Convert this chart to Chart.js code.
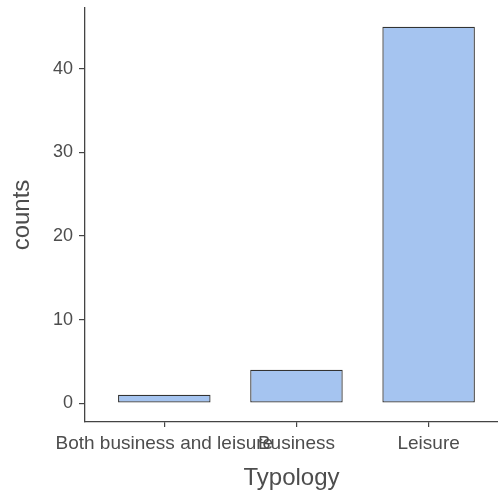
<!DOCTYPE html>
<html>
<head>
<meta charset="utf-8">
<script src="https://cdn.jsdelivr.net/npm/chart.js@4/dist/chart.umd.min.js"></script>
<style>
  html, body { margin: 0; padding: 0; background: #fff; }
  #wrap { width: 498px; height: 496px; }
</style>
</head>
<body>
<div id="wrap"><canvas id="chart"></canvas></div>
<script>
  const categories = ['Both business and leisure', 'Business', 'Leisure'];
  const counts = [1, 4, 45];
  const yTicks = [0, 10, 20, 30, 40];

  const axisColor = '#444';
  const labelColor = '#4d4d4d';
  const font = 'Liberation Sans, Arial, sans-serif';

  // bars sit at x = 1, 2, 3 on a linear axis so the ggplot-like expansion can be matched
  const points = counts.map((v, i) => ({ x: i + 1, y: v }));

  new Chart(document.getElementById('chart'), {
    type: 'bar',
    data: {
      datasets: [{
        data: points,
        backgroundColor: '#a5c4f0',
        borderColor: '#333',
        borderWidth: 1.3,
        borderSkipped: false,
        categoryPercentage: 1,
        barPercentage: 0.7,
      }],
    },
    options: {
      responsive: true,
      maintainAspectRatio: false,
      animation: false,
      layout: { padding: { top: 8, right: 0, left: 0, bottom: 0 } },
      plugins: { legend: { display: false }, tooltip: { enabled: false } },
      scales: {
        x: {
          type: 'linear',
          offset: false,
          min: 0.4,
          max: 3.525,
          afterBuildTicks: (s) => { s.ticks = categories.map((c, i) => ({ value: i + 1 })); },
          afterFit: (s) => { s.height = 74; s.paddingLeft = 0; s.paddingRight = 0; },
          ticks: {
            autoSkip: false,
            maxRotation: 0,
            color: labelColor,
            font: { family: font, size: 19 },
            padding: 5,
            callback: (v) => categories[v - 1],
          },
          grid: { offset: false, drawOnChartArea: false, tickLength: 5, color: axisColor, lineWidth: 1.2 },
          border: { color: axisColor, width: 1.3 },
          title: {
            display: true,
            text: 'Typology',
            color: labelColor,
            font: { family: font, size: 24 },
            padding: { top: 4, bottom: 3 },
          },
        },
        y: {
          min: -2.25,
          max: 47.25,
          afterBuildTicks: (s) => { s.ticks = yTicks.map((v) => ({ value: v })); },
          afterFit: (s) => { s.width = 85; s.paddingTop = 0; s.paddingBottom = 0; },
          ticks: {
            color: labelColor,
            font: { family: font, size: 18 },
            padding: 6,
          },
          grid: { drawOnChartArea: false, tickLength: 6, color: axisColor, lineWidth: 1.2 },
          border: { color: axisColor, width: 1.3 },
          title: {
            display: true,
            text: 'counts',
            color: labelColor,
            font: { family: font, size: 24 },
            padding: { top: 8, bottom: 2 },
          },
        },
      },
    },
  });
</script>
</body>
</html>
